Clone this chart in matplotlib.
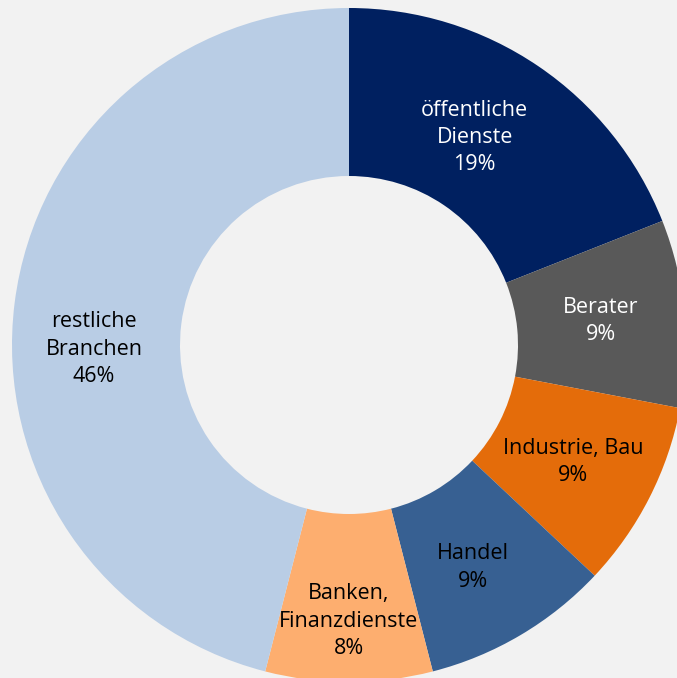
import numpy as np
import matplotlib.pyplot as plt

# Branchenanteile (Reihenfolge im Uhrzeigersinn ab 12 Uhr)
branchen = ["öffentliche\nDienste", "Berater", "Industrie, Bau", "Handel",
            "Banken,\nFinanzdienste", "restliche\nBranchen"]
anteile = [19, 9, 9, 9, 8, 46]
farben = ["#002060", "#595959", "#E46C0A", "#376092", "#FDAE6F", "#B9CDE5"]
textfarben = ["white", "white", "black", "black", "black", "black"]

# Lage der Beschriftung: Anteil des Radius und Winkelkorrektur in Grad
lbl_r = [0.72, 0.75, 0.75, 0.755, 0.82, 0.757]
lbl_dw = [3.0, 0.0, -0.5, -1.5, 0.0, 8.1]

bg = "#F2F2F2"
fig = plt.figure(figsize=(6.77, 6.78), dpi=100, facecolor=bg)
ax = fig.add_axes([0, 0, 1, 1])
ax.set_facecolor(bg)

cx, cy, R = 349, 678 - 345, 337
wedges, _ = ax.pie(anteile, colors=farben, startangle=90, counterclock=False,
                   center=(cx, cy), radius=R, frame=True,
                   wedgeprops=dict(width=R - 169, linewidth=0))
ax.set_xlim(0, 677)
ax.set_ylim(0, 678)
ax.set_aspect("equal")
ax.axis("off")

for w, name, val, tc, rf, dw in zip(wedges, branchen, anteile, textfarben, lbl_r, lbl_dw):
    ang = np.deg2rad((w.theta1 + w.theta2) / 2 + dw)
    x = cx + rf * R * np.cos(ang)
    y = cy + rf * R * np.sin(ang)
    ax.text(x, y, f"{name}\n{val}%", ha="center", va="center", color=tc,
            fontsize=15.5, family="Open Sans", linespacing=1.4)

fig.savefig("out.png", dpi=100, facecolor=bg)
